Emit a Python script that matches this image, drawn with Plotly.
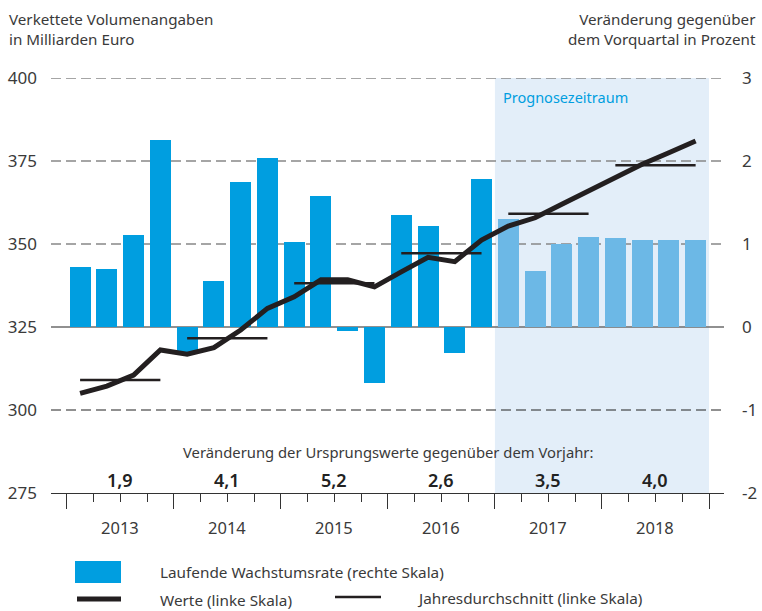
import plotly.graph_objects as go

# ---------------- data ----------------
years = ["2013", "2014", "2015", "2016", "2017", "2018"]
quarters = list(range(24))  # 2013Q1 .. 2018Q4
growth = [0.72, 0.70, 1.11, 2.25,
          -0.30, 0.55, 1.75, 2.04,
          1.02, 1.58, -0.05, -0.67,
          1.35, 1.22, -0.31, 1.78,
          1.30, 0.67, 1.00, 1.08,
          1.07, 1.05, 1.05, 1.05]
values = [305.0, 307.2, 310.5, 318.1,
          316.8, 318.8, 324.1, 330.6,
          334.1, 339.2, 339.2, 337.1,
          341.6, 346.0, 344.7, 351.2,
          355.4, 357.9, 362.0, 366.0,
          370.0, 374.0, 377.5, 381.0]
annual_avg = [309.0, 321.6, 338.2, 347.2, 359.1, 373.7]
annual_change = ["1,9", "4,1", "5,2", "2,6", "3,5", "4,0"]
forecast_start = 16  # first forecast quarter index (2017Q1)

left_ticks = [275, 300, 325, 350, 375, 400]
right_ticks = [-2, -1, 0, 1, 2, 3]

BLUE = "#009EE0"
LIGHT = "#6CB8E6"
SHADE = "#E3EEF9"
DARK = "#231F20"
FONT = "Noto Sans"
TXT = "#3a3a3a"

bar_colors = [BLUE if i < forecast_start else LIGHT for i in quarters]

fig = go.Figure()
fig.add_trace(go.Bar(x=quarters, y=growth, marker=dict(color=bar_colors, line=dict(width=0)),
                     width=0.785, yaxis="y", showlegend=False))
fig.add_trace(go.Scatter(x=quarters, y=values, mode="lines", yaxis="y2",
                         line=dict(color=DARK, width=5), showlegend=False))
for k, avg in enumerate(annual_avg):
    fig.add_trace(go.Scatter(x=[4 * k, 4 * k + 3], y=[avg, avg], mode="lines", yaxis="y2",
                             line=dict(color=DARK, width=2.5), showlegend=False))

xr = [-1.087, 24.06]
L, R, T, B = 51, 724, 78, 493
shapes = []
shapes.append(dict(type="rect", xref="x", yref="y2", x0=forecast_start - 0.5, x1=23.5,
                   y0=275, y1=400, fillcolor=SHADE, line=dict(width=0), layer="below"))
for v in left_ticks[1:]:
    if v == 325:
        ln = dict(color="#6b6b6b", width=1.5)
    elif v == 300:
        ln = dict(color="#222222", width=1.2, dash="10px,5px")
    else:
        ln = dict(color="#888888", width=1.5, dash="10px,5px")
    shapes.append(dict(type="line", xref="x", yref="y2", x0=xr[0], x1=xr[1], y0=v, y1=v,
                       line=ln, layer="below"))

def px(x):
    return (x - L) / float(R - L)

def py(y):
    return (B - y) / float(B - T)

shapes.append(dict(type="rect", xref="paper", yref="paper", x0=px(75), x1=px(121),
                   y0=py(583), y1=py(561), fillcolor=BLUE, line=dict(width=0)))
shapes.append(dict(type="line", xref="paper", yref="paper", x0=px(77), x1=px(121),
                   y0=py(599), y1=py(599), line=dict(color=DARK, width=5)))
shapes.append(dict(type="line", xref="paper", yref="paper", x0=px(335), x1=px(381),
                   y0=py(597), y1=py(597), line=dict(color=DARK, width=2.5)))

ann = []
for k, y in enumerate(years):
    ann.append(dict(x=4 * k + 1.5, y=py(527), xref="x", yref="paper", yanchor="middle",
                    text=y, showarrow=False, font=dict(family=FONT, size=16.5, color=TXT)))
    ann.append(dict(x=4 * k + 1.5, y=279, xref="x", yref="y2", yanchor="middle",
                    text=annual_change[k], showarrow=False,
                    font=dict(family=FONT, size=18, color="#222", weight=600)))
ann.append(dict(x=11.5, y=287.3, xref="x", yref="y2", yanchor="middle",
                text="Veränderung der Ursprungswerte gegenüber dem Vorjahr:", showarrow=False,
                font=dict(family=FONT, size=14.8, color=TXT)))
ann.append(dict(x=forecast_start - 0.5, y=py(97), xref="x", yref="paper", xanchor="left",
                yanchor="middle", xshift=6, text="Prognosezeitraum", showarrow=False,
                font=dict(family=FONT, size=14.5, color=BLUE)))
ann.append(dict(x=px(7), y=py(29), xref="paper", yref="paper", xanchor="left", yanchor="middle",
                align="left", text="Verkettete Volumenangaben<br>in Milliarden Euro",
                showarrow=False, font=dict(family=FONT, size=15.2, color=TXT)))
ann.append(dict(x=px(758), y=py(29), xref="paper", yref="paper", xanchor="right",
                yanchor="middle", align="right",
                text="Veränderung gegenüber<br>dem Vorquartal in Prozent", showarrow=False,
                font=dict(family=FONT, size=15.2, color=TXT)))
for txt, xx, yy in [("Laufende Wachstumsrate (rechte Skala)", 158, 572),
                    ("Werte (linke Skala)", 158, 600),
                    ("Jahresdurchschnitt (linke Skala)", 415, 598)]:
    ann.append(dict(x=px(xx), y=py(yy), xref="paper", yref="paper", xanchor="left",
                    yanchor="middle", text=txt, showarrow=False,
                    font=dict(family=FONT, size=15.3, color=TXT)))

fig.update_layout(
    width=762, height=611,
    margin=dict(l=L, r=762 - R, t=T, b=611 - B, autoexpand=False),
    paper_bgcolor="white", plot_bgcolor="rgba(0,0,0,0)",
    bargap=0,
    shapes=shapes, annotations=ann,
    xaxis=dict(range=xr, showgrid=False, zeroline=False, showticklabels=False,
               automargin=False,
               showline=True, linecolor="#333", linewidth=1.2,
               ticks="outside", tick0=-0.5, dtick=4, ticklen=15, tickcolor="#333", tickwidth=1.2,
               minor=dict(ticks="outside", tick0=-0.5, dtick=1, ticklen=8, tickcolor="#333",
                          tickwidth=1.2)),
    yaxis=dict(range=[-2, 3], side="right", tickvals=right_ticks, automargin=False,
               ticktext=[str(v) for v in right_ticks], showgrid=False, zeroline=False,
               ticklabelstandoff=17, tickfont=dict(family=FONT, size=17, color=TXT)),
    yaxis2=dict(range=[275, 400], side="left", overlaying="y", tickvals=left_ticks,
                automargin=False,
                showgrid=False, zeroline=False, ticklabelstandoff=13,
                tickfont=dict(family=FONT, size=17, color=TXT)),
)

fig.write_html("out.html", config={"displayModeBar": False},
               post_script="document.body.style.margin='0';document.body.style.padding='0';")
